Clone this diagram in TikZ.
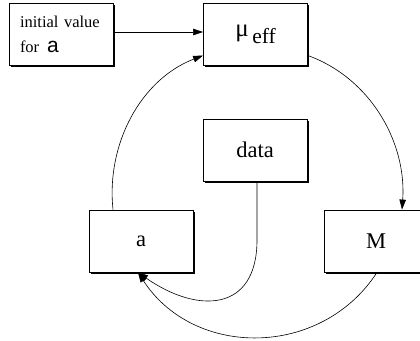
\documentclass[tikz,border=0pt]{standalone}
\usepackage{fontspec}
\setmainfont{Liberation Serif}
\newfontfamily\sansf{Liberation Sans}
\usetikzlibrary{arrows.meta,shadows}
\begin{document}
\begin{tikzpicture}[x=1pt,y=1pt,
  box/.style={draw, line width=0.8pt, fill=white, minimum width=104pt, minimum height=62pt, inner sep=0pt,
    drop shadow={shadow xshift=1.8pt, shadow yshift=-1.8pt, fill=black, opacity=1}},
  conn/.style={line width=0.6pt},
  arr/.style={conn, -{Triangle[length=10pt,width=6.5pt]}},
  lbl/.style={font=\fontsize{22.5}{24}\selectfont}]
\useasboundingbox (0,0) rectangle (420,-340);
\node[box, text width=82pt, align=left, font=\fontsize{16.5}{25}\selectfont] (init) at (61,-34)
  {initial value\\for\hspace{8pt}{\sansf\fontsize{21}{25}\selectfont a}};
\node[box] (mu) at (255.5,-34.5) {{\fontsize{25}{24}\selectfont μ}\raisebox{-7pt}{\fontsize{21.5}{20}\selectfont\,eff}};
\node[box, lbl] (data) at (255,-150) {data};
\node[box, lbl] (a) at (141,-241) {a};
\node[box, lbl] (M) at (376,-241) {M};
\draw[arr] ([yshift=2pt]init.east) -- ([yshift=2pt]init.east -| mu.west);
\draw[arr] ([xshift=-28pt]a.north) to[out=96,in=201,looseness=0.95] ([yshift=-21pt]mu.west);
\draw[arr] ([yshift=-21pt]mu.east) to[out=-20,in=86,looseness=0.95] ([xshift=26pt]M.north);
\draw[arr] ([xshift=2pt]data.south) -- ([xshift=2pt]data.south |- 0,-240) to[out=-90,in=-35,looseness=1.5] ([xshift=-3pt]a.south);
\draw[arr] ([xshift=1pt]M.south) to[out=-123,in=-57,looseness=1.1] ([xshift=-3pt]a.south);
\end{tikzpicture}
\end{document}
